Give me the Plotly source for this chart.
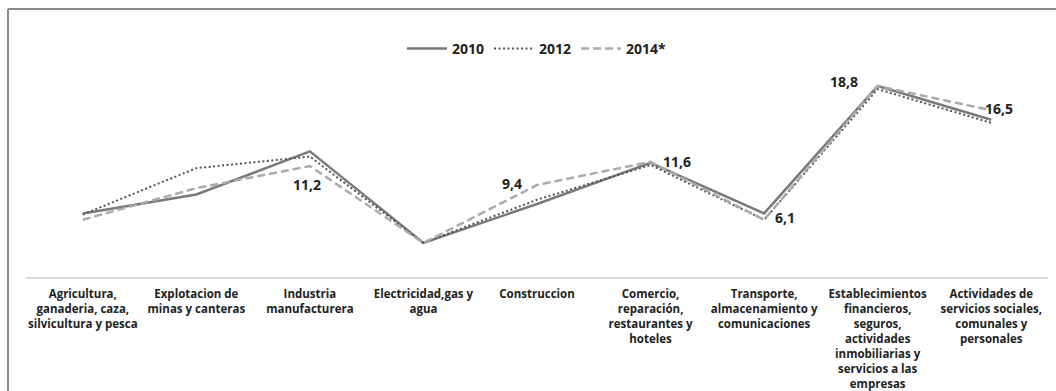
import plotly.graph_objects as go

categories = [
    "Agricultura,<br>ganaderia, caza,<br>silvicultura y pesca",
    "Explotacion de<br>minas y canteras",
    "Industria<br>manufacturera",
    "Electricidad,gas y<br>agua",
    "Construccion",
    "Comercio,<br>reparación,<br>restaurantes y<br>hoteles",
    "Transporte,<br>almacenamiento y<br>comunicaciones",
    "Establecimientos<br>financieros,<br>seguros,<br>actividades<br>inmobiliarias y<br>servicios a las<br>empresas",
    "Actividades de<br>servicios sociales,<br>comunales y<br>personales",
]

v2010 = [6.7, 8.5, 12.6, 3.9, 7.6, 11.5, 6.7, 18.8, 15.6]
v2012 = [6.6, 11.0, 12.1, 3.9, 8.0, 11.3, 6.1, 18.5, 15.3]
v2014 = [6.1, 9.1, 11.2, 3.9, 9.4, 11.6, 6.1, 18.8, 16.5]

labelled_idx = [2, 4, 5, 6, 7, 8]
label_shift = {2: (-3, -18), 4: (-25, 2), 5: (26, 0), 6: (21, 2), 7: (-34, 5), 8: (8, 2)}

x = list(range(len(categories)))
FONT = "Open Sans"

W, H = 1056, 391
ML, MR, MT = 26, 8, 60
PLOT_BOTTOM = 277
MB = H - PLOT_BOTTOM
PW = W - ML - MR
PH = PLOT_BOTTOM - MT

fig = go.Figure()
fig.add_trace(go.Scatter(x=x, y=v2010, mode="lines", name="<b>2010</b>",
                         line=dict(color="#7a7a7a", width=2.5)))
fig.add_trace(go.Scatter(x=x, y=v2012, mode="lines", name="<b>2012</b>",
                         line=dict(color="#555555", width=2, dash="2px,2.5px")))
fig.add_trace(go.Scatter(x=x, y=v2014, mode="lines", name="<b>2014*</b>",
                         line=dict(color="#ababab", width=2.5, dash="8px,4px")))

for i in labelled_idx:
    dx, dy = label_shift[i]
    fig.add_annotation(x=x[i], y=v2014[i], xref="x", yref="y",
                       text="<b>" + f"{v2014[i]:.1f}".replace(".", ",") + "</b>",
                       showarrow=False, xshift=dx, yshift=dy,
                       font=dict(family=FONT, size=14, color="#222222"))

# outer frame (left and top edges visible)
fx = (8 - ML) / PW
fy = (PLOT_BOTTOM - 9) / PH
fig.add_shape(type="line", xref="paper", yref="paper",
              x0=fx, x1=fx, y0=-MB / PH, y1=fy,
              line=dict(color="#8a8a8a", width=2))
fig.add_shape(type="line", xref="paper", yref="paper",
              x0=fx, x1=(W - ML) / PW, y0=fy, y1=fy,
              line=dict(color="#8a8a8a", width=2))

fig.update_layout(
    width=W, height=H,
    margin=dict(l=ML, r=MR, t=MT, b=MB),
    paper_bgcolor="white", plot_bgcolor="white",
    font=dict(family=FONT, color="#222222"),
    showlegend=True,
    legend=dict(orientation="h", x=0.5, xanchor="center", y=(PLOT_BOTTOM - 49) / PH,
                yanchor="middle", font=dict(family=FONT, size=14, color="#222222"),
                bgcolor="rgba(0,0,0,0)", itemwidth=40, tracegroupgap=0),
    xaxis=dict(tickmode="array", tickvals=x,
               ticktext=["<b>" + c + "</b>" for c in categories],
               range=[-0.5, len(categories) - 0.5],
               showline=True, linecolor="#d9d9d9", linewidth=2,
               showgrid=False, zeroline=False, ticks="",
               tickfont=dict(family=FONT, size=11.5, color="#222222"),
               ticklabelstandoff=5, automargin=False,
               tickangle=0),
    yaxis=dict(range=[0.665, 21.27], visible=False, showgrid=False,
               zeroline=False, automargin=False),
)

fig.write_html("out.html")
